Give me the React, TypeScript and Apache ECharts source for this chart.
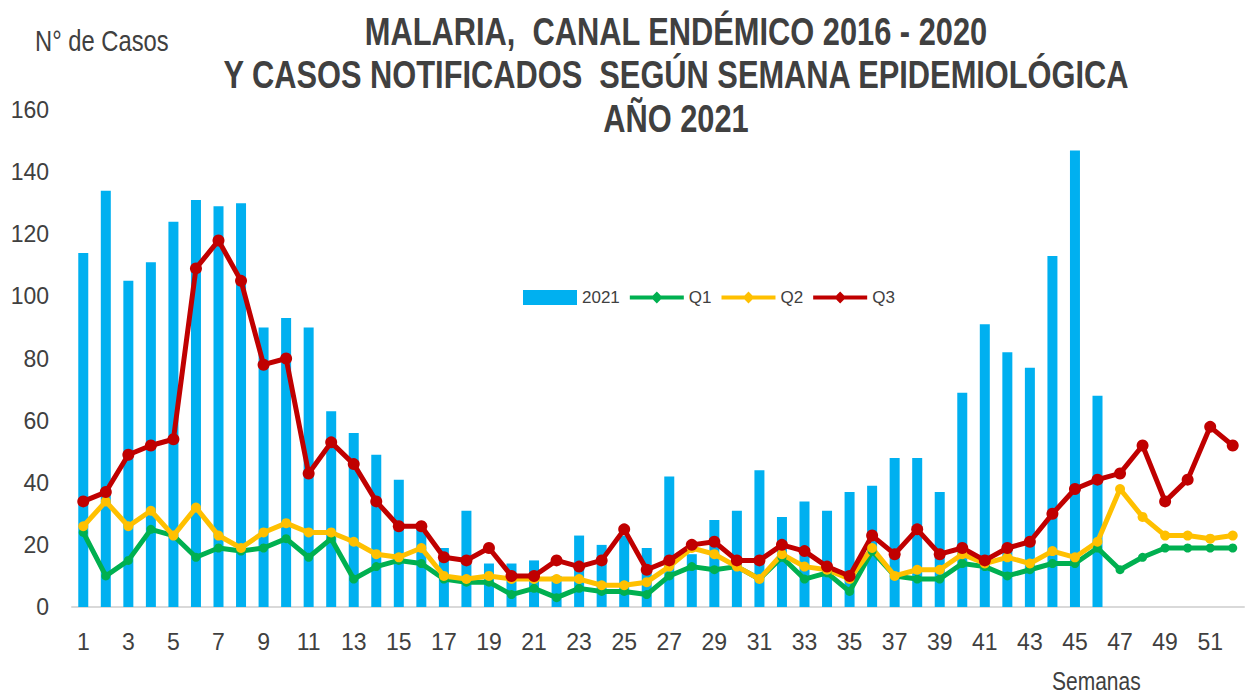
import React, { useEffect, useRef } from "react";
import * as echarts from "echarts";

const weeks: string[] = Array.from({ length: 52 }, (_, i) => String(i + 1));

const cases2021: number[] = [
  114, 134, 105, 111, 124, 131, 129, 130, 90, 93, 90, 63, 56, 49, 41, 25, 19, 31, 14, 14,
  15, 10, 23, 20, 23, 19, 42, 17, 28, 31, 44, 29, 34, 31, 37, 39, 48, 48, 37, 69,
  91, 82, 77, 113, 147, 68,
];

const q1: number[] = [
  24, 10, 15, 25, 23, 16, 19, 18, 19, 22, 16, 22, 9, 13, 15, 14, 9,
  8, 8, 4, 6, 3, 6, 5, 5, 4, 10, 13, 12, 13, 9, 16, 9, 11,
  5, 18, 10, 9, 9, 14, 13, 10, 12, 14, 14, 19, 12, 16, 19, 19, 19, 19,
];

const q2: number[] = [
  26, 34, 26, 31, 23, 32, 23, 19, 24, 27, 24, 24, 21, 17, 16, 19, 10,
  9, 10, 9, 9, 9, 9, 7, 7, 8, 13, 19, 17, 13, 9, 17, 13, 12,
  9, 19, 10, 12, 12, 17, 14, 16, 14, 18, 16, 21, 38, 29, 23, 23, 22, 23,
];

const q3: number[] = [
  34, 37, 49, 52, 54, 109, 118, 105, 78, 80, 43, 53, 46, 34, 26, 26, 16,
  15, 19, 10, 10, 15, 13, 15, 25, 12, 15, 20, 21, 15, 15, 20, 18, 13,
  10, 23, 17, 25, 17, 19, 15, 19, 21, 30, 38, 41, 43, 52, 34, 41, 58, 52,
];

const titleLines: string[] = [
  "MALARIA,  CANAL ENDÉMICO 2016 - 2020",
  "Y CASOS NOTIFICADOS  SEGÚN SEMANA EPIDEMIOLÓGICA",
  "AÑO 2021",
];

const FONT = '"Liberation Sans", Arial, sans-serif';
const TEXT = "#404040";
const LINE_ICON = "path://M0,5H23.5L27.5,1L31.5,5H55V9H31.5L27.5,13L23.5,9H0Z";

export default function App() {
  const ref = useRef<HTMLDivElement>(null);

  useEffect(() => {
    if (!ref.current) return;
    document.body.style.margin = "0";
    const chart = echarts.init(ref.current, null, { renderer: "svg" });
    const lineSeries = (name: string, data: number[], color: string, size: number) => ({
      name,
      type: "line",
      data,
      symbol: "circle",
      symbolSize: size,
      lineStyle: { color, width: 5 },
      itemStyle: { color },
      z: 3,
    });
    const titleY = [31, 74.5, 118];
    chart.setOption({
      animation: false,
      backgroundColor: "#ffffff",
      textStyle: { fontFamily: FONT },
      legend: {
        top: 284,
        left: 518,
        itemWidth: 54,
        itemHeight: 15,
        itemGap: 10,
        textStyle: { fontSize: 17, color: TEXT, fontFamily: FONT },
        data: [
          { name: "2021", icon: "rect" },
          { name: "Q1", icon: LINE_ICON },
          { name: "Q2", icon: LINE_ICON },
          { name: "Q3", icon: LINE_ICON },
        ],
      },
      grid: { left: 72, right: 2, top: 110, bottom: 90 },
      xAxis: {
        type: "category",
        data: weeks,
        boundaryGap: true,
        axisLine: { lineStyle: { color: "#D9D9D9", width: 2 } },
        axisTick: { show: false },
        axisLabel: {
          interval: 1,
          fontSize: 23,
          color: TEXT,
          margin: 23,
          fontFamily: FONT,
        },
      },
      yAxis: {
        type: "value",
        min: 0,
        max: 160,
        interval: 20,
        axisLine: { show: false },
        axisTick: { show: false },
        splitLine: { show: false },
        axisLabel: { fontSize: 23, color: TEXT, margin: 23, fontFamily: FONT },
      },
      graphic: [
        ...titleLines.map((t, i) => ({
          type: "text",
          x: 676,
          y: titleY[i],
          scaleX: 0.79,
          style: {
            text: t,
            align: "center",
            verticalAlign: "middle",
            fontSize: 39,
            fontWeight: "bold",
            fontFamily: FONT,
            fill: TEXT,
          },
        })),
        {
          type: "text",
          x: 35,
          y: 41,
          scaleX: 0.82,
          style: {
            text: "N° de Casos",
            verticalAlign: "middle",
            fontSize: 29,
            fill: TEXT,
            fontFamily: FONT,
          },
        },
        {
          type: "text",
          x: 1052,
          y: 681,
          scaleX: 0.84,
          style: {
            text: "Semanas",
            verticalAlign: "middle",
            fontSize: 25,
            fill: TEXT,
            fontFamily: FONT,
          },
        },
      ],
      series: [
        {
          name: "2021",
          type: "bar",
          data: cases2021,
          barWidth: 10,
          itemStyle: { color: "#00B0F0" },
          z: 2,
        },
        lineSeries("Q1", q1, "#00B050", 9),
        lineSeries("Q2", q2, "#FFC000", 10),
        lineSeries("Q3", q3, "#C00000", 12),
      ],
    });
    return () => chart.dispose();
  }, []);

  return (
    <div
      ref={ref}
      style={{ position: "absolute", left: 0, top: 0, width: 1246, height: 697 }}
    />
  );
}
